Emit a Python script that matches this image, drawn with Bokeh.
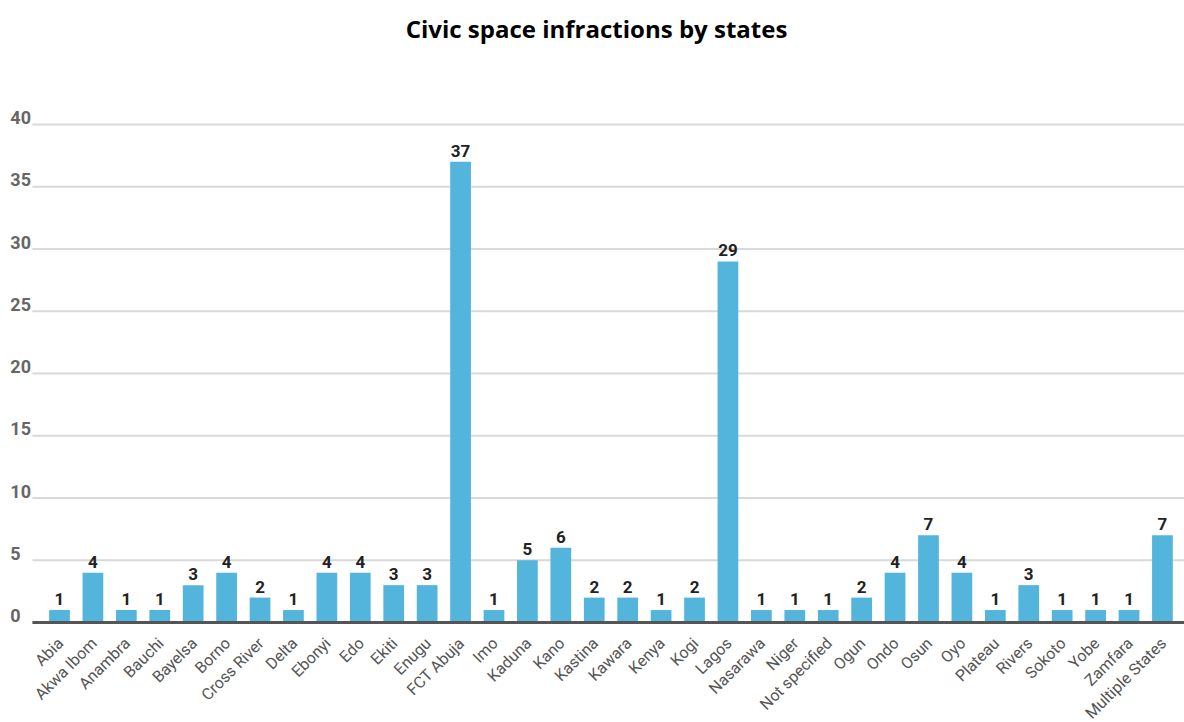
import math
from bokeh.plotting import figure
from bokeh.models import ColumnDataSource, Range1d
from bokeh.core.properties import value
from bokeh.embed import file_html
from bokeh.resources import INLINE

states = ["Abia", "Akwa Ibom", "Anambra", "Bauchi", "Bayelsa", "Borno", "Cross River",
          "Delta", "Ebonyi", "Edo", "Ekiti", "Enugu", "FCT Abuja", "Imo", "Kaduna", "Kano",
          "Kastina", "Kawara", "Kenya", "Kogi", "Lagos", "Nasarawa", "Niger", "Not specified",
          "Ogun", "Ondo", "Osun", "Oyo", "Plateau", "Rivers", "Sokoto", "Yobe", "Zamfara",
          "Multiple States"]
infractions = [1, 4, 1, 1, 3, 4, 2, 1, 4, 4, 3, 3, 37, 1, 5, 6, 2, 2, 1, 2, 29, 1, 1, 1,
               2, 4, 7, 4, 1, 3, 1, 1, 1, 7]
y_ticks = [0, 5, 10, 15, 20, 25, 30, 35, 40]
title = "Civic space infractions by states"

# layout in data units: one category step is ~33.4 px, one count ~12.45 px
X0, X1 = -1.765, 33.66
GRID_LEFT = -0.81
LABEL_LEFT = -1.47
H = 722
BASE_PX = 622                      # baseline distance from the top edge
PX_PER_UNIT = (BASE_PX - 124) / 40.0
Y_TOP = BASE_PX / PX_PER_UNIT
Y_BOT = -(H - BASE_PX) / PX_PER_UNIT

pos = list(range(len(states)))
src = ColumnDataSource(dict(x=pos, top=infractions, txt=[str(v) for v in infractions],
                            name=states))

p = figure(width=1184, height=H, output_backend="svg", toolbar_location=None,
           x_range=Range1d(X0, X1), y_range=Range1d(Y_BOT, Y_TOP),
           min_border_left=0, min_border_right=0, min_border_top=0, min_border_bottom=0)
p.outline_line_color = None
p.background_fill_color = "white"
p.border_fill_color = "white"
p.grid.visible = False
p.axis.visible = False

# horizontal gridlines
gsrc = ColumnDataSource(dict(y=y_ticks[1:]))
p.segment(x0=GRID_LEFT, x1=X1, y0="y", y1="y", source=gsrc,
          line_color="#d9d9d9", line_width=2)

p.vbar(x="x", top="top", width=0.62, bottom=0, source=src,
       fill_color="#53b4dc", line_color=None)

# baseline
p.segment(x0=GRID_LEFT, x1=X1, y0=0, y1=0, line_color="#555555", line_width=3)

# value labels on top of each bar
p.text(x="x", y="top", text="txt", source=src, text_align="center",
       text_baseline="alphabetic", y_offset=-11,
       text_font=value("Roboto"), text_font_style="bold",
       text_font_size="17px", text_color="#222222")

# y tick labels above their gridlines at the left edge
lsrc = ColumnDataSource(dict(y=y_ticks, txt=[str(t) for t in y_ticks]))
p.text(x=LABEL_LEFT, y="y", text="txt", source=lsrc, text_align="left",
       text_baseline="alphabetic", y_offset=-7, text_font=value("Roboto"),
       text_font_style="bold", text_font_size="18px", text_color="#666666")

# rotated state names under the bars
p.text(x="x", y=0, text="name", source=src, angle=math.pi / 4,
       text_align="right", text_baseline="middle", x_offset=1, y_offset=18,
       text_font=value("Roboto"), text_font_size="16px", text_color="#555555")

# chart title
p.text(x=[(X0 + X1) / 2 + 0.12], y=[Y_TOP - 28 / PX_PER_UNIT], text=[title],
       text_align="center", text_baseline="middle", text_font=value("Open Sans"),
       text_font_style="bold", text_font_size="24px", text_color="#000000")

open("out.html", "w").write(file_html(p, INLINE))
